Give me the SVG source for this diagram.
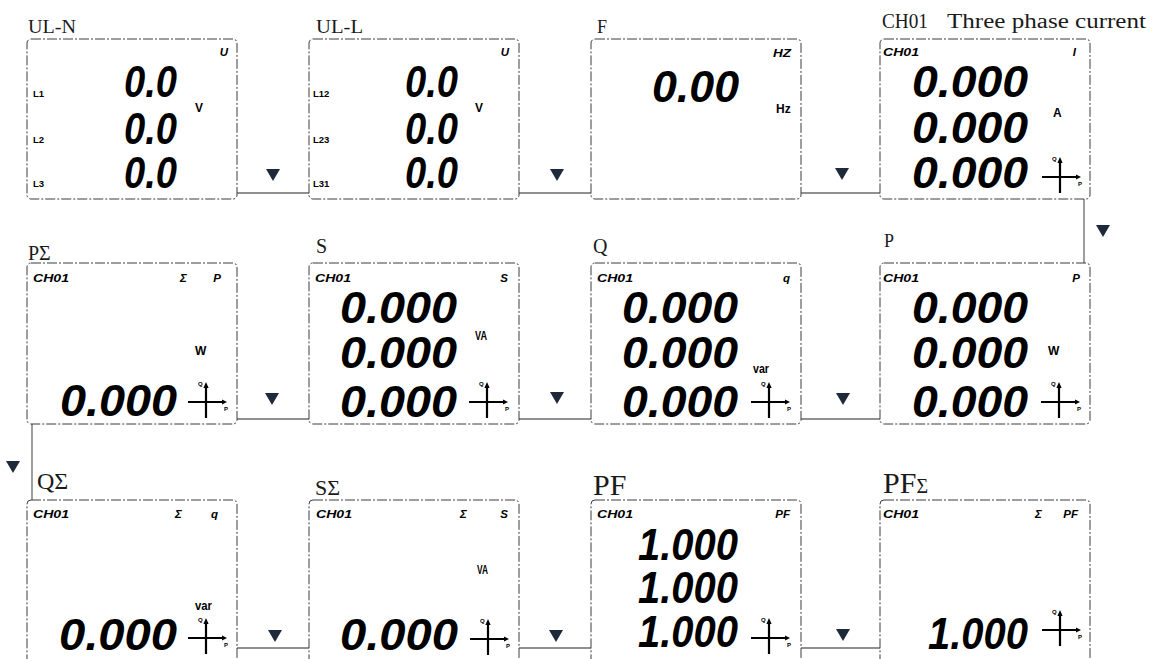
<svg xmlns="http://www.w3.org/2000/svg" xmlns:xlink="http://www.w3.org/1999/xlink" width="1159" height="659" viewBox="0 0 1159 659">
<style>
.t{font-family:"Liberation Serif","Times New Roman",serif;fill:#1a1a1a}
.d{font-family:"Liberation Sans",Arial,sans-serif;font-weight:bold;font-style:italic;font-size:45px;fill:#000}
.k{font-family:"Liberation Sans",Arial,sans-serif;font-weight:bold;font-style:italic;font-size:11.5px;fill:#000}
.u{font-family:"Liberation Sans",Arial,sans-serif;font-weight:bold;font-size:12px;fill:#000}
.l{font-family:"Liberation Sans",Arial,sans-serif;font-weight:bold;font-size:9.5px;fill:#000}
.q{font-family:"Liberation Sans",Arial,sans-serif;font-weight:bold;font-size:6px;fill:#000}
.panel{fill:#fff;stroke:#3c3c3c;stroke-width:1;stroke-dasharray:10 2 2 2}
.conn line{stroke:#6b6b6b;stroke-width:1.3}
.tri{fill:#1e2a3a}
.ax{stroke:#000;stroke-width:2.2}
</style>
<defs>
<polygon id="tri" class="tri" points="-7,-6 7,-6 0,6"/>
<g id="quad">
<line class="ax" x1="0" y1="-16" x2="0" y2="16"/>
<line class="ax" x1="-18" y1="0" x2="17" y2="0"/>
<polygon points="-2.6,-14 2.6,-14 0,-20" fill="#000"/>
<polygon points="16,-2.6 16,2.6 21,0" fill="#000"/>
<text class="q" x="-8" y="-16">Q</text>
<text class="q" x="18" y="9">P</text>
</g>
</defs>
<rect width="1159" height="659" fill="#fff"/>

<g id="connectors" class="conn">
<line x1="237" y1="193" x2="309" y2="193"/>
<line x1="519" y1="193" x2="591" y2="193"/>
<line x1="801" y1="193" x2="880" y2="193"/>
<line x1="1084" y1="199" x2="1084" y2="263"/>
<line x1="237" y1="419" x2="309" y2="419"/>
<line x1="519" y1="419" x2="591" y2="419"/>
<line x1="801" y1="419" x2="880" y2="419"/>
<line x1="32" y1="424" x2="32" y2="500"/>
<line x1="237" y1="648" x2="309" y2="648"/>
<line x1="519" y1="648" x2="591" y2="648"/>
<line x1="801" y1="648" x2="880" y2="648"/>
<use xlink:href="#tri" x="273" y="175"/>
<use xlink:href="#tri" x="557" y="175"/>
<use xlink:href="#tri" x="842" y="174"/>
<use xlink:href="#tri" x="1103" y="231"/>
<use xlink:href="#tri" x="272" y="399"/>
<use xlink:href="#tri" x="557" y="398"/>
<use xlink:href="#tri" x="843" y="399"/>
<use xlink:href="#tri" x="13" y="467"/>
<use xlink:href="#tri" x="275" y="636"/>
<use xlink:href="#tri" x="556" y="636"/>
<use xlink:href="#tri" x="843" y="635"/>
</g>

<g id="node-uln">
<text class="t" x="28" y="33" font-size="18" textLength="48" lengthAdjust="spacingAndGlyphs">UL-N</text>
<rect class="panel" x="27" y="39" width="210" height="160" rx="4"/>
<text class="k" x="228" y="56" text-anchor="end">U</text>
<text class="l" x="33" y="97">L1</text>
<text class="l" x="33" y="143">L2</text>
<text class="l" x="33" y="187">L3</text>
<text class="d" x="124" y="97" textLength="53" lengthAdjust="spacingAndGlyphs">0.0</text>
<text class="d" x="124" y="144" textLength="53" lengthAdjust="spacingAndGlyphs">0.0</text>
<text class="d" x="124" y="188" textLength="53" lengthAdjust="spacingAndGlyphs">0.0</text>
<text class="u" x="195" y="112">V</text>
</g>

<g id="node-ull">
<text class="t" x="316" y="33" font-size="18" textLength="47" lengthAdjust="spacingAndGlyphs">UL-L</text>
<rect class="panel" x="309" y="39" width="210" height="160" rx="4"/>
<text class="k" x="509" y="56" text-anchor="end">U</text>
<text class="l" x="313" y="97">L12</text>
<text class="l" x="313" y="143">L23</text>
<text class="l" x="313" y="187">L31</text>
<text class="d" x="405" y="97" textLength="53" lengthAdjust="spacingAndGlyphs">0.0</text>
<text class="d" x="405" y="144" textLength="53" lengthAdjust="spacingAndGlyphs">0.0</text>
<text class="d" x="405" y="188" textLength="53" lengthAdjust="spacingAndGlyphs">0.0</text>
<text class="u" x="475" y="112">V</text>
</g>

<g id="node-f">
<text class="t" x="597" y="33" font-size="18">F</text>
<rect class="panel" x="591" y="39" width="210" height="160" rx="4"/>
<text class="k" x="773" y="57" font-size="10.5" textLength="18" lengthAdjust="spacingAndGlyphs">HZ</text>
<text class="d" x="652" y="102" font-size="55" textLength="87" lengthAdjust="spacingAndGlyphs">0.00</text>
<text class="u" x="776" y="113">Hz</text>
</g>

<g id="node-i">
<text class="t" x="882" y="28" font-size="20" textLength="46" lengthAdjust="spacingAndGlyphs">CH01</text>
<text class="t" x="947" y="28" font-size="20.5" textLength="199" lengthAdjust="spacingAndGlyphs">Three phase current</text>
<rect class="panel" x="880" y="39" width="210" height="160" rx="4"/>
<text class="k" x="883" y="56" textLength="36" lengthAdjust="spacingAndGlyphs">CH01</text>
<text class="k" x="1076" y="56" text-anchor="end">I</text>
<text class="d" x="912" y="97" textLength="116" lengthAdjust="spacingAndGlyphs">0.000</text>
<text class="d" x="912" y="143" textLength="116" lengthAdjust="spacingAndGlyphs">0.000</text>
<text class="d" x="912" y="188" textLength="116" lengthAdjust="spacingAndGlyphs">0.000</text>
<text class="u" x="1053" y="117">A</text>
<use xlink:href="#quad" x="1060" y="177"/>
</g>

<g id="node-psum">
<text class="t" x="28" y="260" font-size="20">PΣ</text>
<rect class="panel" x="27" y="263" width="210" height="161" rx="4"/>
<text class="k" x="33" y="282" textLength="36" lengthAdjust="spacingAndGlyphs">CH01</text>
<text class="k" x="180" y="282">Σ</text>
<text class="k" x="221" y="282" text-anchor="end">P</text>
<text class="u" x="195" y="355">W</text>
<text class="d" x="60" y="416" font-size="50" textLength="117" lengthAdjust="spacingAndGlyphs">0.000</text>
<use xlink:href="#quad" x="206" y="402"/>
</g>

<g id="node-s">
<text class="t" x="316" y="253" font-size="20">S</text>
<rect class="panel" x="309" y="263" width="210" height="161" rx="4"/>
<text class="k" x="315" y="282" textLength="36" lengthAdjust="spacingAndGlyphs">CH01</text>
<text class="k" x="508" y="282" text-anchor="end">S</text>
<text class="d" x="340" y="323" font-size="46" textLength="117" lengthAdjust="spacingAndGlyphs">0.000</text>
<text class="d" x="340" y="368" font-size="46" textLength="117" lengthAdjust="spacingAndGlyphs">0.000</text>
<text class="d" x="340" y="417" font-size="50" textLength="117" lengthAdjust="spacingAndGlyphs">0.000</text>
<text class="u" x="475" y="340" font-size="11" textLength="12" lengthAdjust="spacingAndGlyphs">VA</text>
<use xlink:href="#quad" x="487" y="402"/>
</g>

<g id="node-q">
<text class="t" x="593" y="253" font-size="20">Q</text>
<rect class="panel" x="591" y="263" width="210" height="161" rx="4"/>
<text class="k" x="597" y="282" textLength="36" lengthAdjust="spacingAndGlyphs">CH01</text>
<text class="k" x="790" y="282" text-anchor="end">q</text>
<text class="d" x="622" y="323" font-size="46" textLength="116" lengthAdjust="spacingAndGlyphs">0.000</text>
<text class="d" x="622" y="368" font-size="46" textLength="116" lengthAdjust="spacingAndGlyphs">0.000</text>
<text class="d" x="622" y="417" font-size="50" textLength="116" lengthAdjust="spacingAndGlyphs">0.000</text>
<text class="u" x="753" y="373" font-size="13" textLength="16" lengthAdjust="spacingAndGlyphs">var</text>
<use xlink:href="#quad" x="769" y="402"/>
</g>

<g id="node-p">
<text class="t" x="884" y="247" font-size="18">P</text>
<rect class="panel" x="880" y="263" width="210" height="161" rx="4"/>
<text class="k" x="883" y="282" textLength="36" lengthAdjust="spacingAndGlyphs">CH01</text>
<text class="k" x="1080" y="282" text-anchor="end">P</text>
<text class="d" x="912" y="323" font-size="46" textLength="116" lengthAdjust="spacingAndGlyphs">0.000</text>
<text class="d" x="912" y="368" font-size="46" textLength="116" lengthAdjust="spacingAndGlyphs">0.000</text>
<text class="d" x="912" y="417" font-size="50" textLength="116" lengthAdjust="spacingAndGlyphs">0.000</text>
<text class="u" x="1048" y="355">W</text>
<use xlink:href="#quad" x="1059" y="402"/>
</g>

<g id="node-qsum">
<text class="t" x="37" y="489" font-size="24">QΣ</text>
<rect class="panel" x="27" y="500" width="210" height="165" rx="4"/>
<text class="k" x="33" y="518" textLength="36" lengthAdjust="spacingAndGlyphs">CH01</text>
<text class="k" x="175" y="518">Σ</text>
<text class="k" x="218" y="518" text-anchor="end">q</text>
<text class="u" x="195" y="610" font-size="13" textLength="17" lengthAdjust="spacingAndGlyphs">var</text>
<text class="d" x="59" y="650" font-size="47" textLength="118" lengthAdjust="spacingAndGlyphs">0.000</text>
<use xlink:href="#quad" x="206" y="638"/>
</g>

<g id="node-ssum">
<text class="t" x="315" y="495" font-size="22">SΣ</text>
<rect class="panel" x="309" y="500" width="210" height="165" rx="4"/>
<text class="k" x="316" y="518" textLength="36" lengthAdjust="spacingAndGlyphs">CH01</text>
<text class="k" x="460" y="518">Σ</text>
<text class="k" x="508" y="518" text-anchor="end">S</text>
<text class="u" x="477" y="574" font-size="11" textLength="11" lengthAdjust="spacingAndGlyphs">VA</text>
<text class="d" x="340" y="650" font-size="47" textLength="118" lengthAdjust="spacingAndGlyphs">0.000</text>
<use xlink:href="#quad" x="488" y="639"/>
</g>

<g id="node-pf">
<text class="t" x="593" y="495" font-size="30">PF</text>
<rect class="panel" x="591" y="500" width="210" height="165" rx="4"/>
<text class="k" x="597" y="518" textLength="36" lengthAdjust="spacingAndGlyphs">CH01</text>
<text class="k" x="790" y="518" text-anchor="end">PF</text>
<text class="d" x="638" y="560" textLength="100" lengthAdjust="spacingAndGlyphs">1.000</text>
<text class="d" x="638" y="603" textLength="100" lengthAdjust="spacingAndGlyphs">1.000</text>
<text class="d" x="638" y="647" textLength="100" lengthAdjust="spacingAndGlyphs">1.000</text>
<use xlink:href="#quad" x="769" y="638"/>
</g>

<g id="node-pfsum">
<text class="t" x="883" y="493" font-size="30">PF<tspan font-size="20">Σ</tspan></text>
<rect class="panel" x="880" y="500" width="210" height="165" rx="4"/>
<text class="k" x="883" y="518" textLength="36" lengthAdjust="spacingAndGlyphs">CH01</text>
<text class="k" x="1035" y="518">Σ</text>
<text class="k" x="1078" y="518" text-anchor="end">PF</text>
<text class="d" x="928" y="649" font-size="46" textLength="100" lengthAdjust="spacingAndGlyphs">1.000</text>
<use xlink:href="#quad" x="1060" y="630"/>
</g>
</svg>
